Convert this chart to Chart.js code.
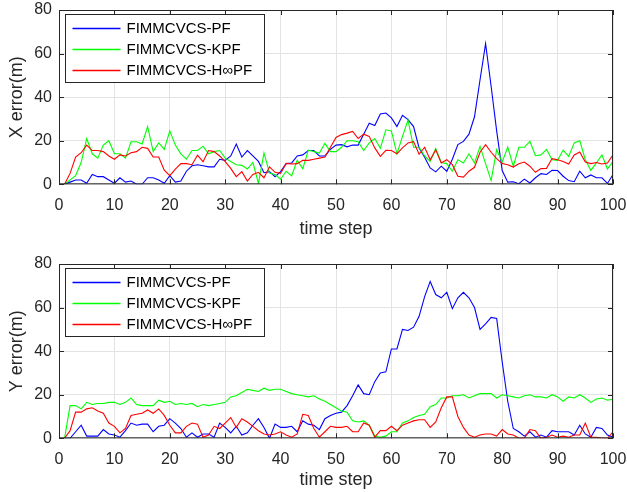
<!DOCTYPE html>
<html>
<head>
<meta charset="utf-8">
<title>FIMMCVCS errors</title>
<script src="https://cdn.jsdelivr.net/npm/chart.js@4/dist/chart.umd.min.js"></script>
<style>
  html, body { margin: 0; padding: 0; background: #fff; }
  #wrap { position: relative; width: 627px; height: 492px; background: #fff; }
  canvas { position: absolute; left: 0; }
  #xChart { top: 0; }
  #yChart { top: 246px; }
</style>
</head>
<body>
<div id="wrap">
  <canvas id="xChart" width="627" height="246"></canvas>
  <canvas id="yChart" width="627" height="246"></canvas>
</div>
<script>
// time steps 1..100
const steps = Array.from({ length: 100 }, (_, i) => i + 1);

const seriesNames = ['FIMMCVCS-PF', 'FIMMCVCS-KPF', 'FIMMCVCS-H\u221EPF'];
const seriesColors = ['#0000ff', '#00ff00', '#ff0000'];

const xTicks = [0, 10, 20, 30, 40, 50, 60, 70, 80, 90, 100];
const yTicks = [0, 20, 40, 60, 80];

// X error (m)
const xErrPF = [
  0, 1, 2, 2, 0.5, 4.5, 3.5, 3.5, 2, 0.5,
  3, 1, 1.5, 0, 0, 3, 3, 2, 0.5, 4,
  1, 1.5, 6, 8.5, 9, 8.5, 8, 8, 11.5, 11,
  13, 18.5, 12.5, 15.5, 13, 10.5, 5.3, 5.8, 3.5, 5.8,
  9.5, 9.8, 13, 13.5, 15.5, 15.5, 13, 13, 16, 18,
  18.2, 17.2, 18, 18, 23, 28, 27, 32.3, 32.7, 30.5,
  26.5, 31.7, 29.7, 26.5, 16.7, 12.4, 7.5, 5.7, 8.3, 6,
  11.5, 18.2, 19.7, 23, 31, 48, 64.5, 45, 24.5, 6.3,
  1, 1.2, 0.3, 2.4, 0.6, 3, 4.9, 4.5, 6.4, 6.3,
  3.7, 1.7, 1.2, 6, 3, 4.3, 3, 3, 0.4, 4.5
];
const xErrKPF = [
  0, 2, 4, 10, 21, 14, 12, 18, 20, 14,
  14, 12, 19.5, 19.5, 18.5, 26.5, 15, 19, 16, 24.5,
  18, 14, 11.5, 15.5, 15.5, 17.5, 14, 15, 15.5, 12,
  10.5, 9, 8.7, 7, 10, 0.4, 14.4, 5.2, 4.5, 2.3,
  6, 3.9, 11, 7.2, 15.7, 15, 14.3, 18.8, 15, 15,
  17, 20, 20, 19.5, 15.5, 19, 21, 16.5, 25, 24.5,
  14, 22, 29.5, 17, 17, 13, 10.5, 16.5, 10, 9.5,
  6, 11.3, 9.8, 14, 9.8, 17.4, 9.5, 1.7, 15.9, 10.2,
  17.1, 8.3, 17, 17, 19.7, 13.1, 13.5, 16, 11.3, 11,
  15.7, 12.8, 19, 20, 11.3, 6.4, 9.8, 13.5, 7, 10.5
];
const xErrHPF = [
  0, 5, 12.5, 14.5, 18, 15.5, 15.5, 15, 13, 11.5,
  13.5, 13, 14.5, 15, 17, 16.5, 12.5, 12.5, 6.5, 4,
  7, 9.5, 9.5, 9, 13.4, 10.4, 15.5, 15, 13, 10.4,
  7.3, 3.5, 5.8, 1.5, 4.5, 5.5, 3, 8, 5.5, 5,
  9.6, 9.3, 9.5, 11, 11, 11.5, 12, 12.5, 17, 21.5,
  22.8, 23.5, 24.3, 21, 23, 22, 16.7, 12.8, 15.6, 15.5,
  14, 16.7, 19, 19.6, 13.8, 17, 11.3, 15.8, 9.8, 11.3,
  9, 3.7, 3.3, 6, 7.8, 14.7, 18.2, 14.7, 11.8, 9.5,
  9, 7.9, 9.4, 10.2, 8.3, 5.5, 7.2, 7.3, 11.8, 11.3,
  10.5, 9.3, 13.5, 14.8, 10.2, 9.5, 10, 9.3, 9.8, 13.5
];

// Y error (m)
const yErrPF = [
  0, 0, 3, 6, 1, 1, 1, 4, 2, 1.5,
  0.5, 3.5, 7, 6, 6.5, 6.5, 3, 5.5, 6, 9,
  7, 4.5, 0.5, 2.5, 0.5, 2, 2, 0.5, 7, 5,
  2.5, 5.5, 1.5, 2.5, 6, 9, 5, 0, 6.5, 5,
  5, 5.5, 3, 8, 6.5, 6, 4, 9, 10.5, 11.5,
  12, 15, 19.5, 24.5, 20.5, 20, 26, 30, 30.5, 41,
  41, 50, 49.5, 51, 56, 65, 72, 66, 64.5, 67,
  59.5, 64.5, 67, 64.5, 60, 50, 52.5, 55.5, 55, 35,
  17, 4.5, 3, 1, 3, 0.5, 1.5, 0.5, 3.5, 3,
  3, 3, 1.5, 6, 2, 0.5, 5, 4.5, 1.5, 0.5
];
const yErrKPF = [
  0, 15, 15, 13.5, 16.5, 15.5, 16, 16, 16.5, 16.5,
  15.5, 16.5, 18.5, 15.5, 15, 15, 15, 17.5, 16.5, 17,
  15.5, 16, 15.5, 16, 14.5, 15.5, 15, 15.5, 16, 16.5,
  19, 19.5, 21, 22.5, 22, 21.5, 23, 22, 22.5, 22.5,
  21.5, 20.5, 20, 19.5, 19, 19.5, 18, 17, 15.5, 14,
  12.5, 12, 8, 7.5, 8, 6, 1, 0.5, 1, 3,
  3, 7, 8, 9.5, 10.5, 11, 14.5, 15.5, 18.5, 18.5,
  19.5, 19.5, 20, 18.5, 19.5, 20.5, 20.5, 20.5, 18.5, 20,
  19.5, 19, 18.5, 19.5, 20, 19, 19, 18.5, 20, 19,
  17, 19, 18.5, 20, 18.5, 16.5, 18, 18.5, 17.5, 18
];
const yErrHPF = [
  0, 3.5, 12, 12, 13.5, 14, 12.5, 11.5, 7, 5.5,
  2.5, 4.5, 10.5, 11, 11.5, 13, 11.5, 13.5, 10.5, 6,
  2.5, 2.5, 5.5, 7, 6.5, 0.5, 1.5, 5.5, 4.5, 7,
  9.5, 5, 9, 7.5, 5.5, 3.5, 2, 1.5, 2, 3,
  1.5, 0.5, 2, 11, 10.5, 4.5, 0.5, 3, 5.5, 5,
  5, 5.5, 3, 3, 7, 6, 0.5, 3.5, 3.5, 5.5,
  3.5, 6, 7, 8, 8.5, 8.5, 5, 7.5, 14, 19,
  19, 10, 5, 1.5, 0.5, 1.5, 2, 2, 1, 4,
  2, 1.5, 0, 0, 4, 3.5, 0, 0.5, 1.5, 0.5,
  1, 0.5, 1.5, 1.5, 7, 0.5, 0.5, 0, 0, 3
];

const FONT = "'Liberation Sans', Arial, Helvetica, sans-serif";
const AXIS = '#262626';

// MATLAB-like box, inward ticks and legend drawn inside the axes
const matlabAxes = {
  id: 'matlabAxes',
  afterDatasetsDraw(chart) {
    const { ctx, chartArea: a, scales: { x, y } } = chart;
    ctx.save();
    ctx.strokeStyle = AXIS;
    ctx.lineWidth = 1;
    ctx.beginPath();
    ctx.rect(a.left + 0.5, a.top + 0.5, a.right - a.left - 1, a.bottom - a.top - 1);
    x.ticks.forEach(t => {
      const px = Math.round(x.getPixelForValue(t.value)) + 0.5;
      ctx.moveTo(px, a.bottom); ctx.lineTo(px, a.bottom - 5);
      ctx.moveTo(px, a.top); ctx.lineTo(px, a.top + 5);
    });
    y.ticks.forEach(t => {
      const py = Math.round(y.getPixelForValue(t.value)) + 0.5;
      ctx.moveTo(a.left, py); ctx.lineTo(a.left + 5, py);
      ctx.moveTo(a.right, py); ctx.lineTo(a.right - 5, py);
    });
    ctx.stroke();

    // legend
    const lx = Math.round(a.left + 6) + 0.5;
    const ly = Math.round(a.top + 4) + 0.5;
    const lw = 199, lh = 68;
    ctx.fillStyle = '#fff';
    ctx.fillRect(lx, ly, lw, lh);
    ctx.strokeStyle = AXIS;
    ctx.strokeRect(lx, ly, lw, lh);
    ctx.font = '15px ' + FONT;
    ctx.textBaseline = 'middle';
    ctx.textAlign = 'left';
    chart.data.datasets.forEach((ds, i) => {
      const cy = ly + 14 + i * 21;
      ctx.beginPath();
      ctx.lineWidth = 1.3;
      ctx.strokeStyle = seriesColors[i];
      ctx.moveTo(lx + 7, cy);
      ctx.lineTo(lx + 55, cy);
      ctx.stroke();
      ctx.fillStyle = '#000';
      ctx.fillText(ds.label, lx + 61, cy);
    });
    ctx.restore();
  }
};

function makeChart(canvasId, values, yLabel, padTop, xAxisH, titlePad) {
  const datasets = values.map((vals, i) => ({
    label: seriesNames[i],
    data: steps.map((s, k) => ({ x: s, y: vals[k] })),
    borderColor: seriesColors[i],
    backgroundColor: seriesColors[i],
    borderWidth: 1.1,
    pointRadius: 0,
    tension: 0,
    order: values.length - i
  }));
  return new Chart(document.getElementById(canvasId), {
    type: 'line',
    data: { datasets },
    plugins: [matlabAxes],
    options: {
      responsive: false,
      animation: false,
      layout: { padding: { top: padTop, right: 14, left: 0, bottom: 0 } },
      plugins: { legend: { display: false }, tooltip: { enabled: false } },
      scales: {
        x: {
          type: 'linear',
          min: xTicks[0],
          max: xTicks[xTicks.length - 1],
          afterBuildTicks: s => { s.ticks = xTicks.map(v => ({ value: v })); },
          afterFit: s => { s.height = xAxisH; s.paddingLeft = 0; s.paddingRight = 0; },
          border: { display: false },
          grid: { color: '#e3e3e3', lineWidth: 1, drawTicks: false },
          ticks: { color: AXIS, padding: 12, maxRotation: 0, font: { family: FONT, size: 16 } },
          title: {
            display: true, text: 'time step', color: AXIS,
            font: { family: FONT, size: 18 }, padding: { top: 0, bottom: titlePad }
          }
        },
        y: {
          type: 'linear',
          min: yTicks[0],
          max: yTicks[yTicks.length - 1],
          afterBuildTicks: s => { s.ticks = yTicks.map(v => ({ value: v })); },
          afterFit: s => { s.width = 59; s.paddingTop = 0; s.paddingBottom = 0; },
          border: { display: false },
          grid: { color: '#e3e3e3', lineWidth: 1, drawTicks: false },
          ticks: { color: AXIS, padding: 7, font: { family: FONT, size: 16 } },
          title: {
            display: true, text: yLabel, color: AXIS,
            font: { family: FONT, size: 18 }, padding: { top: 6, bottom: 0 }
          }
        }
      }
    }
  });
}

makeChart('xChart', [xErrPF, xErrKPF, xErrHPF], 'X error(m)', 10, 61.7, 6);
makeChart('yChart', [yErrPF, yErrKPF, yErrHPF], 'Y error(m)', 18, 53.7, 1);
</script>
</body>
</html>
